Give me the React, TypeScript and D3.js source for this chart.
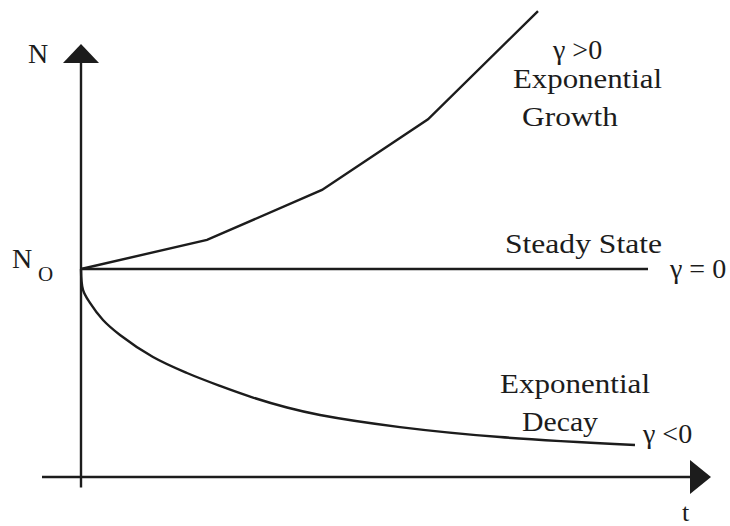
import React from 'react'
import * as d3 from 'd3'

const W = 730
const H = 526

// t in arbitrary time units, N relative to N0
const growthT = [0, 12.6, 24.1, 34.7, 45.7]
const growthN = [1, 1.14, 1.38, 1.72, 2.24]
const steadyT = [0, 56.7]
const steadyN = [1, 1]
const decayT = [0, 0.2, 0.9, 2.2, 3.9, 7.2, 10.6, 13.9, 17.2, 20.6, 23.9, 31.9, 41.9, 55.4]
const decayN = [1, 0.9, 0.837, 0.755, 0.683, 0.577, 0.5, 0.438, 0.382, 0.334, 0.298, 0.24, 0.192, 0.154]
const tAxis = [-3.9, 60.9]
const nAxis = [-0.05, 1.99]

const font = 'Liberation Serif, Tinos, Times New Roman, Times, serif'
const ink = '#1c1c1c'

const App = () => {
  const x = d3.scaleLinear().domain([0, 63]).range([81, 711])
  const y = d3.scaleLinear().domain([0, 1]).range([477, 269])

  const line = d3.line<[number, number]>().x((d) => x(d[0])).y((d) => y(d[1]))
  const smooth = d3.line<[number, number]>()
    .x((d) => x(d[0]))
    .y((d) => y(d[1]))
    .curve(d3.curveCatmullRom.alpha(0.5))

  const zip = (a: number[], b: number[]) => a.map((v, i) => [v, b[i]] as [number, number])

  const x0 = x(0)
  const yTop = y(nAxis[1])
  const xEnd = x(tAxis[1])
  const y0 = y(0)

  return (
    <svg width={W} height={H} style={{ position: 'absolute', left: 0, top: 0, background: '#fff', fontFamily: font }}>
      <g stroke={ink} strokeWidth={2.4} fill="none">
        <line x1={x0} x2={x0} y1={y(nAxis[0])} y2={yTop} />
        <line x1={x(tAxis[0])} x2={xEnd} y1={y0} y2={y0} />
        <path d={line(zip(growthT, growthN)) || ''} />
        <path d={line(zip(steadyT, steadyN)) || ''} />
        <path d={smooth(zip(decayT, decayN)) || ''} />
      </g>
      <path d={`M${x0 - 18},${yTop} L${x0 + 18},${yTop} L${x0},${yTop - 19} Z`} fill={ink} />
      <path d={`M${xEnd},${y0 - 17} L${xEnd},${y0 + 17} L${xEnd + 21},${y0} Z`} fill={ink} />

      <g fill={ink} fontSize={28}>
        <text x={28} y={63}>N</text>
        <text x={12} y={268}>N</text>
        <text x={38} y={281} fontSize={21}>O</text>
        <text x={682} y={521} fontSize={26}>t</text>

        <text x={553} y={59}>γ &gt;0</text>
        <text x={513} y={88} textLength={149} lengthAdjust="spacingAndGlyphs">Exponential</text>
        <text x={522} y={126} textLength={96} lengthAdjust="spacingAndGlyphs">Growth</text>

        <text x={505} y={253} textLength={157} lengthAdjust="spacingAndGlyphs">Steady State</text>
        <text x={670} y={278}>γ = 0</text>

        <text x={500} y={393} textLength={150} lengthAdjust="spacingAndGlyphs">Exponential</text>
        <text x={522} y={431} textLength={76} lengthAdjust="spacingAndGlyphs">Decay</text>
        <text x={643} y={443}>γ &lt;0</text>
      </g>
    </svg>
  )
}

export default App
